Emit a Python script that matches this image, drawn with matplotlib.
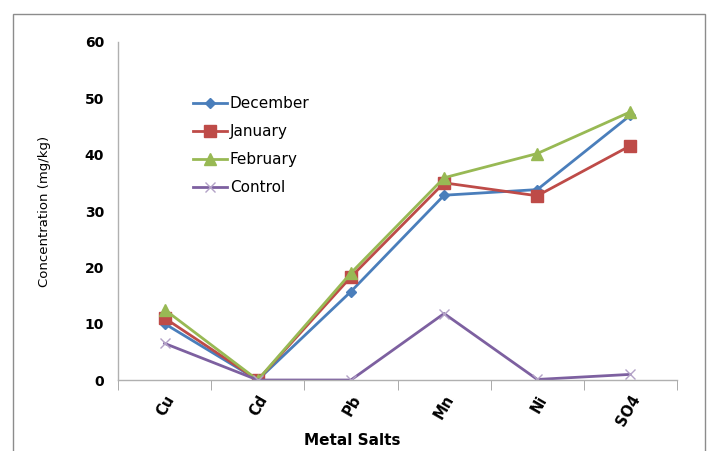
import matplotlib.pyplot as plt
import numpy as np
from matplotlib.patches import Rectangle

plt.rcParams['font.family'] = ['DejaVu Sans']

salts = ["Cu", "Cd", "Pb", "Mn", "Ni", "SO4"]
december = [10.0, 0.0, 15.7, 32.8, 33.8, 47.0]
january = [11.0, 0.0, 18.3, 35.0, 32.7, 41.6]
february = [12.5, 0.0, 19.0, 35.9, 40.2, 47.6]
control = [6.5, 0.0, 0.0, 11.8, 0.1, 1.0]

fig = plt.figure(figsize=(7.07, 4.51), dpi=100)
ax = fig.add_axes([0.1669, 0.1574, 0.7907, 0.7495])

# outer chart frame
fig.patches.append(Rectangle((0.019, -0.05), 0.978, 1.02, transform=fig.transFigure,
                             fill=False, edgecolor="#8c8c8c", linewidth=1.0))

x = np.arange(len(salts))
ax.plot(x, december, color="#4A7EBB", linewidth=2, marker="D", markersize=5, label="December")
ax.plot(x, january, color="#BE4B48", linewidth=2, marker="s", markersize=8, label="January")
ax.plot(x, february, color="#98B954", linewidth=2, marker="^", markersize=8, label="February")
ax.plot(x, control, color="#7D60A0", linewidth=2, marker="x", markersize=7,
        markeredgewidth=1, markeredgecolor="#B3A2C7", label="Control")

ax.set_xlim(-0.5, 5.5)
ax.set_ylim(0, 60)
ax.set_yticks(range(0, 61, 10))
ax.set_xticks(x)
ax.set_xticklabels(salts, rotation=60, ha="right", va="top", rotation_mode="anchor",
                   fontsize=10.5, fontweight="bold")
ax.set_xticks(np.arange(-0.5, 6, 1), minor=True)
ax.tick_params(axis="x", which="major", length=0, pad=9)
ax.tick_params(axis="x", which="minor", length=7, color="#9c9c9c", direction="out")
ax.tick_params(axis="y", length=0, pad=10, labelsize=10)
for lab in ax.get_yticklabels():
    lab.set_fontweight("bold")

for side in ["top", "right"]:
    ax.spines[side].set_visible(False)
for side in ["left", "bottom"]:
    ax.spines[side].set_color("#b0b0b0")
    ax.spines[side].set_linewidth(1)

fig.text(0.498, 0.024, "Metal Salts", fontsize=11, fontweight="bold",
         ha="center", va="center")
ax.set_ylabel("Concentration (mg/kg)", fontsize=9.5, labelpad=24)

ax.legend(loc="upper left", bbox_to_anchor=(0.11, 0.88), frameon=False, fontsize=11,
          handlelength=2.2, handletextpad=0.2, labelspacing=0.85)

fig.savefig("out.png", dpi=100)
